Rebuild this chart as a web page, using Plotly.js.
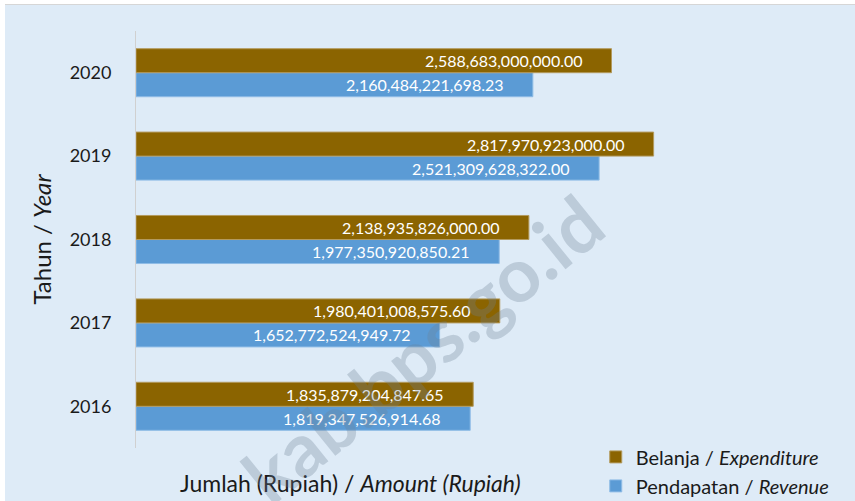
<!DOCTYPE html>
<html>
<head>
<meta charset="utf-8">
<script src="https://cdn.plot.ly/plotly-3.0.1.min.js"></script>
<style>
  html, body { margin: 0; padding: 0; background: #ffffff; }
  #wrap { position: absolute; left: 5px; top: 4px; width: 850px; height: 497px; border-top: 1px solid #D6D6D6; }
  #chart { width: 850px; height: 497px; }
</style>
</head>
<body>
<div id="wrap"><div id="chart"></div></div>
<script>
const years = ['2016', '2017', '2018', '2019', '2020'];
const belanja = [1835879204847.65, 1980401008575.60, 2138935826000.00, 2817970923000.00, 2588683000000.00];
const pendapatan = [1819347526914.68, 1652772524949.72, 1977350920850.21, 2521309628322.00, 2160484221698.23];
const belanjaName = 'Belanja / <i>Expenditure</i>';
const pendapatanName = 'Pendapatan / <i>Revenue</i>';

function fmt(v) {
  return v.toLocaleString('en-US', {minimumFractionDigits: 2, maximumFractionDigits: 2});
}

const traces = [
  {
    type: 'bar', orientation: 'h', name: pendapatanName,
    x: pendapatan, y: years,
    marker: {color: '#5B9BD5', line: {color: '#8FBCE6', width: 1}},
    hoverinfo: 'skip', legendrank: 2
  },
  {
    type: 'bar', orientation: 'h', name: belanjaName,
    x: belanja, y: years,
    marker: {color: '#8B6400', line: {color: '#B39A5E', width: 1}},
    hoverinfo: 'skip', legendrank: 1
  }
];

const labelFont = {family: 'Lato, sans-serif', size: 16, color: '#ffffff'};
const annotations = [];
years.forEach((yr, i) => {
  annotations.push({x: belanja[i], y: i, xref: 'x', yref: 'y', text: fmt(belanja[i]),
    showarrow: false, xanchor: 'right', yanchor: 'middle', xshift: -27, yshift: 12, font: labelFont});
  annotations.push({x: pendapatan[i], y: i, xref: 'x', yref: 'y', text: fmt(pendapatan[i]),
    showarrow: false, xanchor: 'right', yanchor: 'middle', xshift: -27, yshift: -12, font: labelFont});
});
annotations.push({
  xref: 'paper', yref: 'paper', x: 0.307, y: -0.085, xanchor: 'center', yanchor: 'middle',
  text: 'Jumlah (Rupiah) / <i>Amount (Rupiah)</i>', showarrow: false,
  font: {family: 'Lato, sans-serif', size: 23, color: '#1a1a1a'}
});
annotations.push({
  xref: 'paper', yref: 'paper', x: 0.41, y: 0.24, xanchor: 'center', yanchor: 'middle',
  text: '<b>kab.bps.go.id</b>', showarrow: false, textangle: -39,
  font: {family: 'Lato, sans-serif', size: 75, color: 'rgba(110,130,150,0.3)'}
});

const layout = {
  width: 850, height: 497,
  paper_bgcolor: '#DEEBF7', plot_bgcolor: '#DEEBF7',
  margin: {l: 131, r: 21, t: 26, b: 54, autoexpand: false},
  barmode: 'group', bargap: 0.424, bargroupgap: 0,
  showlegend: true,
  legend: {
    xref: 'container', yref: 'container', x: 0.695, y: 0.13, xanchor: 'left', yanchor: 'top',
    bgcolor: 'rgba(0,0,0,0)', font: {family: 'Lato, sans-serif', size: 20, color: '#1a1a1a'},
    itemwidth: 30, tracegroupgap: 0
  },
  xaxis: {
    range: [0, 3.8e12], autorange: false, showgrid: false, zeroline: false, showticklabels: false,
    showline: false, ticks: '', fixedrange: true
  },
  yaxis: {
    type: 'category', range: [-0.5, 4.5], autorange: false, showgrid: false, zeroline: false,
    showline: true, linecolor: '#D0D0D0', linewidth: 1,
    ticks: 'outside', ticklen: 20, tickcolor: 'rgba(0,0,0,0)',
    tickfont: {family: 'Lato, sans-serif', size: 18, color: '#1a1a1a'},
    title: {text: 'Tahun / <i>Year</i>', font: {family: 'Lato, sans-serif', size: 24, color: '#1a1a1a'}, standoff: 11},
    fixedrange: true
  },
  annotations: annotations
};

Plotly.newPlot('chart', traces, layout, {displayModeBar: false, staticPlot: true});
</script>
</body>
</html>
